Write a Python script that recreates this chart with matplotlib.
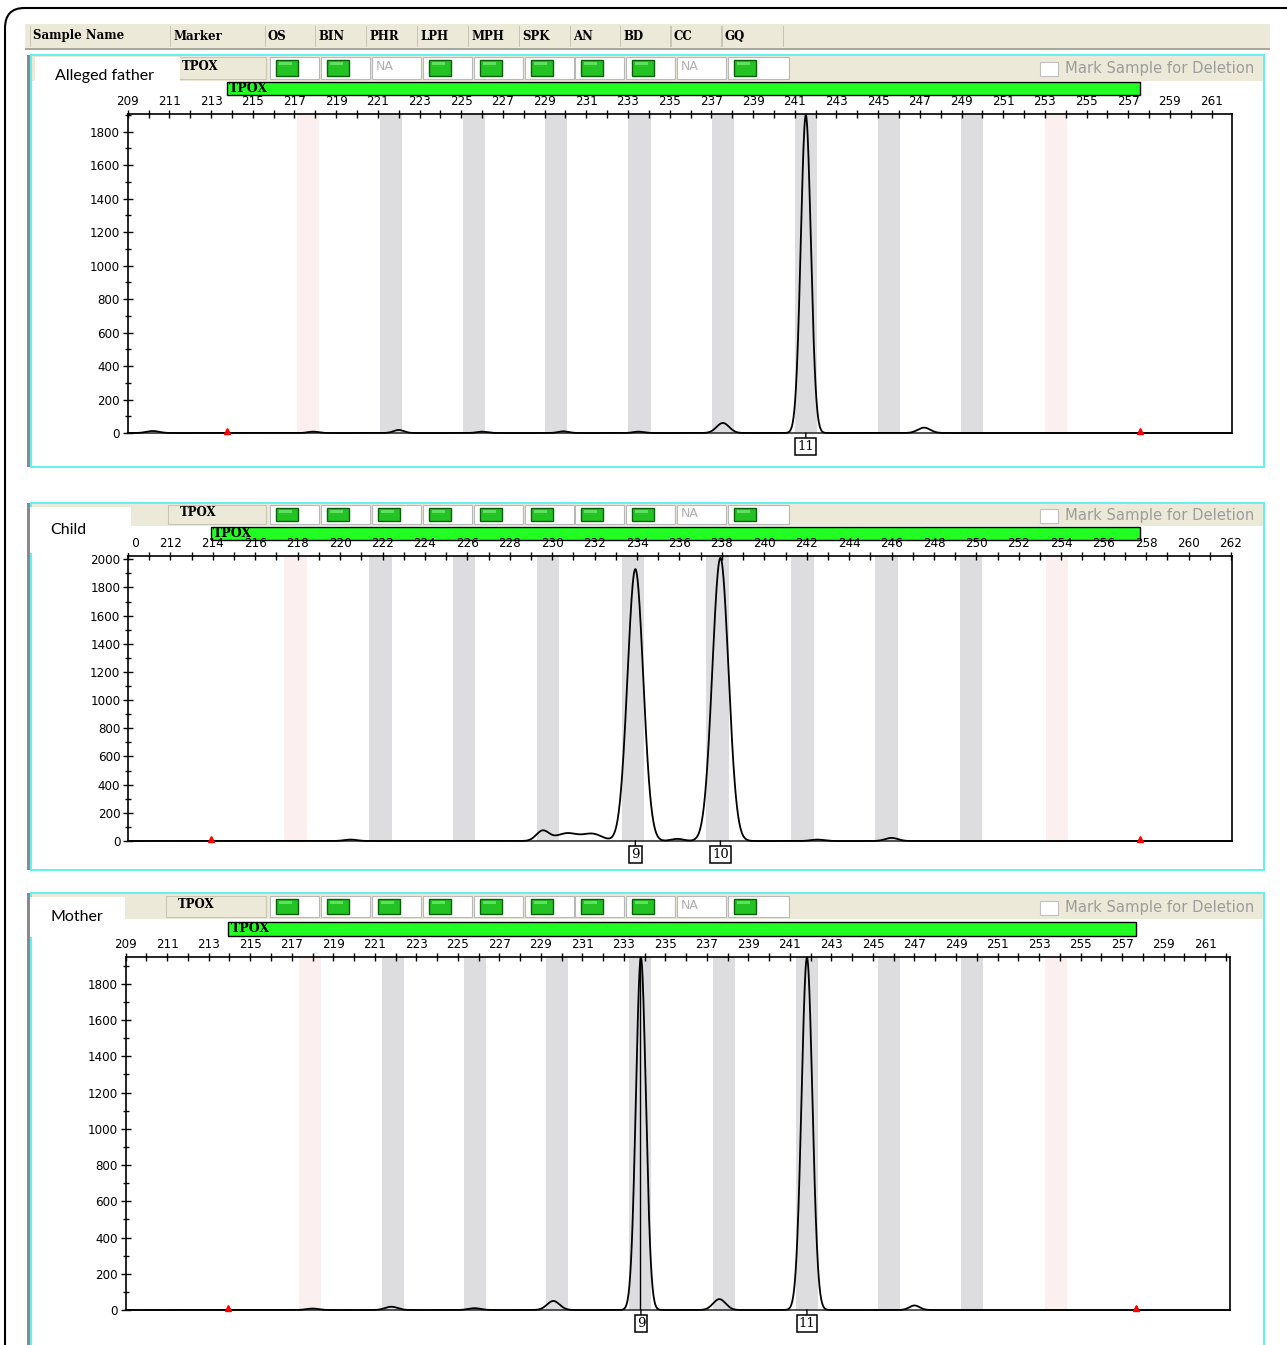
import numpy as np
import matplotlib
matplotlib.use('Agg')
import matplotlib.pyplot as plt
from matplotlib.patches import Rectangle, FancyBboxPatch
import matplotlib.transforms as mtransforms

W, H = 1287, 1345
fig = plt.figure(figsize=(W / 100, H / 100), dpi=100)

# ---- data ----
header_cols = ['Sample Name', 'Marker', 'OS', 'BIN', 'PHR', 'LPH', 'MPH', 'SPK', 'AN', 'BD', 'CC', 'GQ']
header_edges = [30, 170, 265, 315, 366, 417, 468, 519, 570, 620, 671, 722, 783]
marker = 'TPOX'
sample_names = ['Alleged father', 'Child', 'Mother']

# 1 = green flag, 0 = NA   (OS BIN PHR LPH MPH SPK AN BD CC GQ)
father_qc = [1, 1, 0, 1, 1, 1, 1, 1, 0, 1]
child_qc = [1, 1, 1, 1, 1, 1, 1, 1, 0, 1]
mother_qc = [1, 1, 1, 1, 1, 1, 1, 1, 0, 1]

# peaks: size (bp), height (RFU), width (sigma, bp)
father_size = [241.53, 237.55, 247.2, 222.0, 210.2, 217.9, 226.0, 229.9, 233.5]
father_height = [1900, 60, 32, 18, 12, 8, 8, 10, 8]
father_sigma = [0.24, 0.3, 0.3, 0.25, 0.3, 0.25, 0.25, 0.25, 0.25]

child_size = [233.92, 237.93, 229.55, 230.7, 231.9, 246.0, 235.9, 242.5, 220.5]
child_height = [1930, 2010, 72, 55, 50, 22, 15, 10, 10]
child_sigma = [0.37, 0.38, 0.3, 0.5, 0.45, 0.3, 0.3, 0.3, 0.3]

mother_size = [233.82, 241.82, 229.6, 237.6, 221.8, 247.0, 225.8, 218.0]
mother_height = [1945, 1945, 50, 60, 18, 25, 10, 8]
mother_sigma = [0.24, 0.26, 0.3, 0.3, 0.3, 0.25, 0.3, 0.3]

father_calls = [(241.53, '11')]
child_calls = [(233.92, '9'), (237.93, '10')]
mother_calls = [(233.82, '9'), (241.82, '11')]

# allele bins (bp); first and last are virtual bins (pink)
bin_centers = [217.85, 221.85, 225.8, 229.75, 233.75, 237.75, 241.75, 245.7, 249.7, 253.75]
bin_kind = ['v', 'g', 'g', 'g', 'g', 'g', 'g', 'g', 'g', 'v']
bin_shift = [-0.2, 0.05, 0.05]

marker_range = [(213.75, 257.55), (213.9, 257.7), (213.95, 257.65)]
xlims = [(209, 261.96), (210, 262.05), (209, 262.2)]
ylims = [(0, 1906), (0, 2023), (0, 1948)]
label_first = [209, 210, 209]

# ---- layout (pixels) ----
axes_px = [(127.7, 114, 1231.7, 433), (128, 556, 1232, 841), (125.7, 957, 1230, 1310)]
frame_px = [(55, 467), (503, 870), (893, 1360)]
row_px = [(57, 79), (505, 524), (896, 917)]
label_box = [(35, 57, 180, 95), (30, 507, 131, 553), (30, 897, 125, 937)]
marker_x = [182, 180, 178]
bar_px = [(82, 95), (527, 540), (922, 936)]

BEIGE = '#ece9d8'
CYAN = '#66f0f2'


def rect(x0, y0, x1, y1, zorder=1, **kw):
    fig.patches.append(Rectangle((x0 / W, 1 - y1 / H), (x1 - x0) / W, (y1 - y0) / H,
                                 transform=fig.transFigure, zorder=zorder, **kw))


def txt(x, y, s, **kw):
    fig.text(x / W, 1 - y / H, s, **kw)


# outer rounded frame
fig.patches.append(FancyBboxPatch((5 / W, -0.05), 1.1, 1 - 8 / H + 0.05,
                                  boxstyle='round,pad=0,rounding_size=0.015',
                                  transform=fig.transFigure, fc='none', ec='black', lw=1.5))

# column header
rect(25, 24, 1270, 49, fc=BEIGE, ec='none')
rect(25, 48, 1270, 50, fc='#a9a79a', ec='none')
for e in header_edges:
    rect(e - 0.5, 26, e + 0.5, 47, fc='#c8c5b5', ec='none')
for i, name in enumerate(header_cols):
    txt(header_edges[i] + 3, 36, name, fontsize=8.5, fontweight='bold',
        family='DejaVu Serif', va='center', ha='left')

qc_sets = [father_qc, child_qc, mother_qc]
sizes = [father_size, child_size, mother_size]
heights = [father_height, child_height, mother_height]
sigmas = [father_sigma, child_sigma, mother_sigma]
calls = [father_calls, child_calls, mother_calls]

for p in range(3):
    fy0, fy1 = frame_px[p]
    ry0, ry1 = row_px[p]
    # frame
    rect(27, fy0, 30, fy1, fc='#8a8a8a', ec='none')
    rect(31, fy0, 1264, fy1, fc='white', ec=CYAN, lw=1.5, zorder=0.5)
    rect(32, fy0 + 1, 1263, ry1 + 2, fc=BEIGE, ec='none')
    # marker cell
    rect(marker_x[p] - 12, ry0, 266, ry1, fc=BEIGE, ec='#c8c5b5', lw=0.8)
    txt(marker_x[p], (ry0 + ry1) / 2 - 2, marker, fontsize=8.5, fontweight='bold',
        family='DejaVu Serif', va='center')
    # qc cells
    for k, flag in enumerate(qc_sets[p]):
        cx = 270 + k * 50.9
        cw = 61 if k == 9 else 49
        rect(cx, ry0, cx + cw, ry1, fc='white', ec='#b8b8b8', lw=0.8)
        if flag:
            rect(cx + 6, ry0 + 3, cx + 28, ry1 - 3, fc='#22c322', ec='#0b5e0b', lw=1)
            rect(cx + 9, ry0 + 5, cx + 22, ry0 + 8, fc='#5fe05f', ec='none')
        else:
            txt(cx + 4, (ry0 + ry1) / 2 - 1, 'NA', fontsize=9, color='#b0b0b0', va='center')
    # deletion checkbox
    rect(1040, (ry0 + ry1) / 2 - 6, 1058, (ry0 + ry1) / 2 + 8, fc='white', ec='#c0c0c0', lw=0.8)
    txt(1065, (ry0 + ry1) / 2 + 1, 'Mark Sample for Deletion', fontsize=10.6,
        color='#9c9c9c', va='center')

    # plot axes
    x0, y0, x1, y1 = axes_px[p]
    ax = fig.add_axes([x0 / W, 1 - y1 / H, (x1 - x0) / W, (y1 - y0) / H])
    ax.set_zorder(2)
    ax.patch.set_alpha(0)
    ax.set_xlim(*xlims[p])
    ax.set_ylim(*ylims[p])
    for c, kind in zip(bin_centers, bin_kind):
        c = c + bin_shift[p]
        ax.axvspan(c - 0.53, c + 0.53, color='#dddcdf' if kind == 'g' else '#fcefef',
                   lw=0, zorder=0)
    xs = np.linspace(xlims[p][0], xlims[p][1], 4000)
    trace = np.zeros_like(xs)
    for s, h, sg in zip(sizes[p], heights[p], sigmas[p]):
        trace += h * np.exp(-0.5 * ((xs - s) / sg) ** 2)
    ax.plot(xs, trace, color='black', lw=1.3, zorder=3, clip_on=False)
    ax.plot(marker_range[p], [12, 12], '^', color='red', ms=5, zorder=4, clip_on=False)

    ax.xaxis.tick_top()
    xt = np.arange(np.ceil(xlims[p][0]), xlims[p][1] + 0.01, 1)
    ax.set_xticks(xt)
    ax.set_xticklabels([str(int(v)) if (int(v) - label_first[p]) % 2 == 0 else '' for v in xt])
    ax.set_yticks(np.arange(0, ylims[p][1], 200))
    ax.set_yticks(np.arange(100, ylims[p][1], 200), minor=True)
    ax.tick_params(axis='x', direction='inout', length=6, width=1, pad=1, labelsize=8.6)
    ax.tick_params(axis='y', which='both', direction='inout', length=7, width=1, pad=2, labelsize=8.6)
    ax.tick_params(axis='y', which='minor', length=5)
    for sp in ax.spines.values():
        sp.set_linewidth(1.2)
    ax.spines['bottom'].set_color('#333333')

    for pos, lab in calls[p]:
        ax.annotate(lab, xy=(pos, 0), xytext=(0, -5), textcoords='offset points',
                    ha='center', va='top', fontsize=9.5, family='DejaVu Serif',
                    bbox=dict(boxstyle='square,pad=0.15', fc='white', ec='black', lw=1.1),
                    arrowprops=dict(arrowstyle='-', lw=1, shrinkA=0, shrinkB=0),
                    annotation_clip=False)
    if p == 2:
        ax.axvline(calls[p][0][0] - 0.06, color='black', lw=1, zorder=4)

    # marker bin bar, spanning the marker size range
    tr = mtransforms.blended_transform_factory(ax.transData, fig.transFigure)
    by0, by1 = bar_px[p]
    fig.patches.append(Rectangle((marker_range[p][0], 1 - by1 / H),
                                 marker_range[p][1] - marker_range[p][0], (by1 - by0) / H,
                                 transform=tr, fc='#22ff22', ec='black', lw=1))
    fig.text(marker_range[p][0] + 0.1, 1 - (by0 + by1) / 2 / H, marker, transform=tr,
             fontsize=9, fontweight='bold', family='DejaVu Serif', va='center')

    # sample name box (drawn over the header and the first tick label)
    lx0, ly0, lx1, ly1 = label_box[p]
    rect(lx0, ly0, lx1, ly1, fc='white', ec='none', zorder=5)
    txt(lx0 + 20, (ly0 + ly1) / 2, sample_names[p], fontsize=11.5,
        family='Lato', va='center', zorder=6)

fig.savefig('out.png', dpi=100)
